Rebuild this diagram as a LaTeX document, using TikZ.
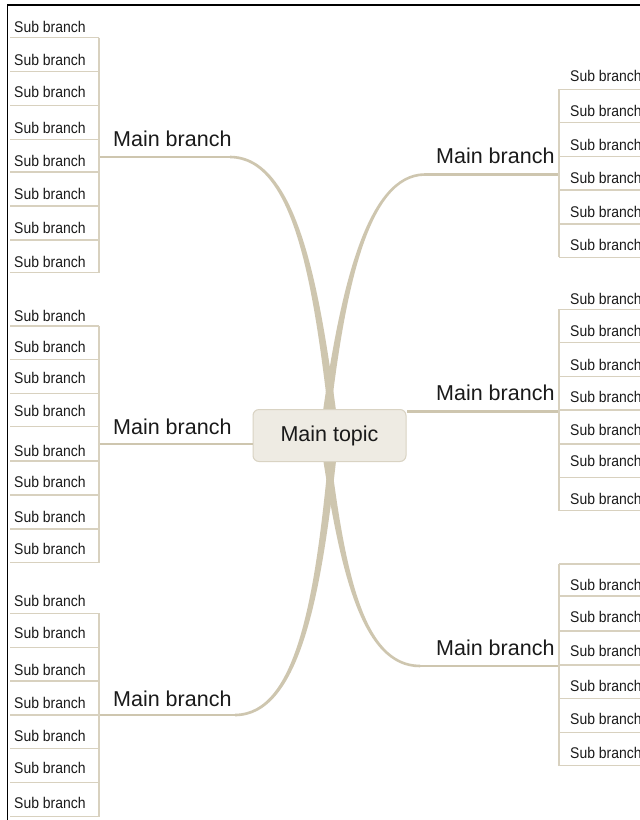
\documentclass[tikz,border=0pt]{standalone}
\usepackage{fontspec}
\setmainfont{Liberation Sans}
\newfontfamily\subfont{Liberation Sans}[FakeStretch=0.9]
\definecolor{txt}{HTML}{1A1A1A}
\definecolor{subc}{HTML}{D8D1BF}
\definecolor{brc}{HTML}{CEC6AF}
\definecolor{boxf}{HTML}{EEEBE3}
\definecolor{boxd}{HTML}{D9D3C3}
\begin{document}
\begin{tikzpicture}[x=1pt,y=-1pt,
  sub/.style={font=\subfont\fontsize{15.5}{17}\selectfont,anchor=base west,inner sep=0pt,text=txt},
  mainb/.style={font=\fontsize{21.5}{24}\selectfont,anchor=base west,inner sep=0pt,text=txt},
  subline/.style={draw=subc,line width=1.4pt},
  mainline/.style={draw=brc,line width=2.6pt},
  taper/.style={fill=brc},
  topicbox/.style={draw=boxd,fill=boxf,rounded corners=6pt,line width=1pt,minimum width=153pt,minimum height=52pt,font=\fontsize{21.5}{24}\selectfont,text=txt,inner sep=0pt}]
\useasboundingbox (0,0) rectangle (640,820);
\fill[white] (0,0) rectangle (640,820);
% frame
\coordinate (f0) at (7.5,820);
\coordinate (f1) at (7.5,5);
\coordinate (f2) at (640,5);
\draw[black,line width=1.3pt] (f0) -- (f1) -- (f2);

% ---- curved main branches (tapered)
\fill[taper] (230,155.7) .. controls (298,155.7) and (320,290) .. (337,418) -- (329,418) .. controls (314,290) and (295,158.3) .. (230,158.3) -- cycle;
\fill[taper] (425,173.2) .. controls (366,173.2) and (340,290) .. (322,418) -- (330,418) .. controls (345,290) and (368,175.8) .. (425,175.8) -- cycle;
\fill[taper] (235,716.3) .. controls (301,716.3) and (322,590) .. (337,452) -- (329,452) .. controls (316,590) and (298,713.7) .. (235,713.7) -- cycle;
\fill[taper] (420,667.3) .. controls (361,667.3) and (340,570) .. (322,452) -- (330,452) .. controls (345,570) and (363,664.7) .. (420,664.7) -- cycle;

% hub coordinates
\coordinate (hL1) at (99,157);  \coordinate (cL1) at (231,157);
\coordinate (hL2) at (99,444);
\coordinate (hL3) at (99,715);  \coordinate (cL3) at (236,715);
\coordinate (hR1) at (559,174.5); \coordinate (cR1) at (424,174.5);
\coordinate (hR2) at (559,411.5);
\coordinate (hR3) at (559,666); \coordinate (cR3) at (419,666);

\draw[mainline] (hL1) -- (cL1);
\draw[mainline] (hL3) -- (cL3);
\draw[mainline] (hR1) -- (cR1);
\draw[mainline] (hR3) -- (cR3);

% main topic
\node[topicbox] (topic) at (329.5,435.5) {Main topic};
\draw[mainline] (hL2) -- (topic.west |- hL2);
\draw[mainline] (hR2) -- (topic.north east |- hR2);

% main branch labels
\node[mainb] (mL1) at (113,146.7) {Main branch};
\node[mainb] (mL2) at (113,434) {Main branch};
\node[mainb] (mL3) at (113,706) {Main branch};
\node[mainb] (mR1) at (436,163.3) {Main branch};
\node[mainb] (mR2) at (436,400) {Main branch};
\node[mainb] (mR3) at (436,655.7) {Main branch};

% ---- left group 1
\foreach \u/\b [count=\i] in {37.7/32.7,71.7/65.7,105.7/97.7,139.3/133.3,172/166.7,206/199,240/233.3,272.7/267.7}{
  \node[sub] (La\i) at (14,\b) {Sub branch};
  \draw[subline] (10,\u) -- (99,\u);
}
\coordinate (La-top) at (99,37.7); \coordinate (La-bot) at (99,272.7);
\draw[subline] (La-top) -- (La-bot);

% ---- left group 2
\foreach \u/\b [count=\i] in {326/321.7,359.3/352.7,393.3/383.3,426.7/416.7,461/456,495/487.3,529/522.7,562.7/554}{
  \node[sub] (Lb\i) at (14,\b) {Sub branch};
  \draw[subline] (10,\u) -- (99,\u);
}
\coordinate (Lb-top) at (99,326); \coordinate (Lb-bot) at (99,562.7);
\draw[subline] (Lb-top) -- (Lb-bot);

% ---- left group 3
\foreach \u/\b [count=\i] in {613.3/606.7,647.7/638.3,681/675.7,715/708.3,748.7/741.7,782.3/773.3,816.7/808.3}{
  \node[sub] (Lc\i) at (14,\b) {Sub branch};
  \draw[subline] (10,\u) -- (99,\u);
}
\coordinate (Lc-top) at (99,613.3); \coordinate (Lc-bot) at (99,816.7);
\draw[subline] (Lc-top) -- (Lc-bot);

% ---- right group 1
\foreach \u/\b [count=\i] in {89.3/81.7,122.7/116.7,156.7/150,190/183.3,224/217.3,257.3/250}{
  \node[sub] (Ra\i) at (570,\b) {Sub branch};
  \draw[subline] (559,\u) -- (641,\u);
}
\coordinate (Ra-top) at (559,89.3); \coordinate (Ra-bot) at (559,257.3);
\draw[subline] (Ra-top) -- (Ra-bot);

% ---- right group 2
\foreach \u/\b [count=\i] in {309.3/304.3,342.7/336.7,376.7/370.7,410/402.7,444/435.7,477.3/466.7,510.7/504}{
  \node[sub] (Rb\i) at (570,\b) {Sub branch};
  \draw[subline] (559,\u) -- (641,\u);
}
\coordinate (Rb-top) at (559,309.3); \coordinate (Rb-bot) at (559,510.7);
\draw[subline] (Rb-top) -- (Rb-bot);

% ---- right group 3
\foreach \u/\b [count=\i] in {596/590,631/622.7,665/656.7,698.3/691,732.3/724.3,765.7/758.3}{
  \node[sub] (Rc\i) at (570,\b) {Sub branch};
  \draw[subline] (559,\u) -- (641,\u);
}
\coordinate (Rc-top) at (559,564); \coordinate (Rc-bot) at (559,765.7);
\coordinate (Rc-topr) at (641,564);
\draw[subline] (Rc-top) -- (Rc-topr);
\draw[subline] (Rc-top) -- (Rc-bot);
\end{tikzpicture}
\end{document}
